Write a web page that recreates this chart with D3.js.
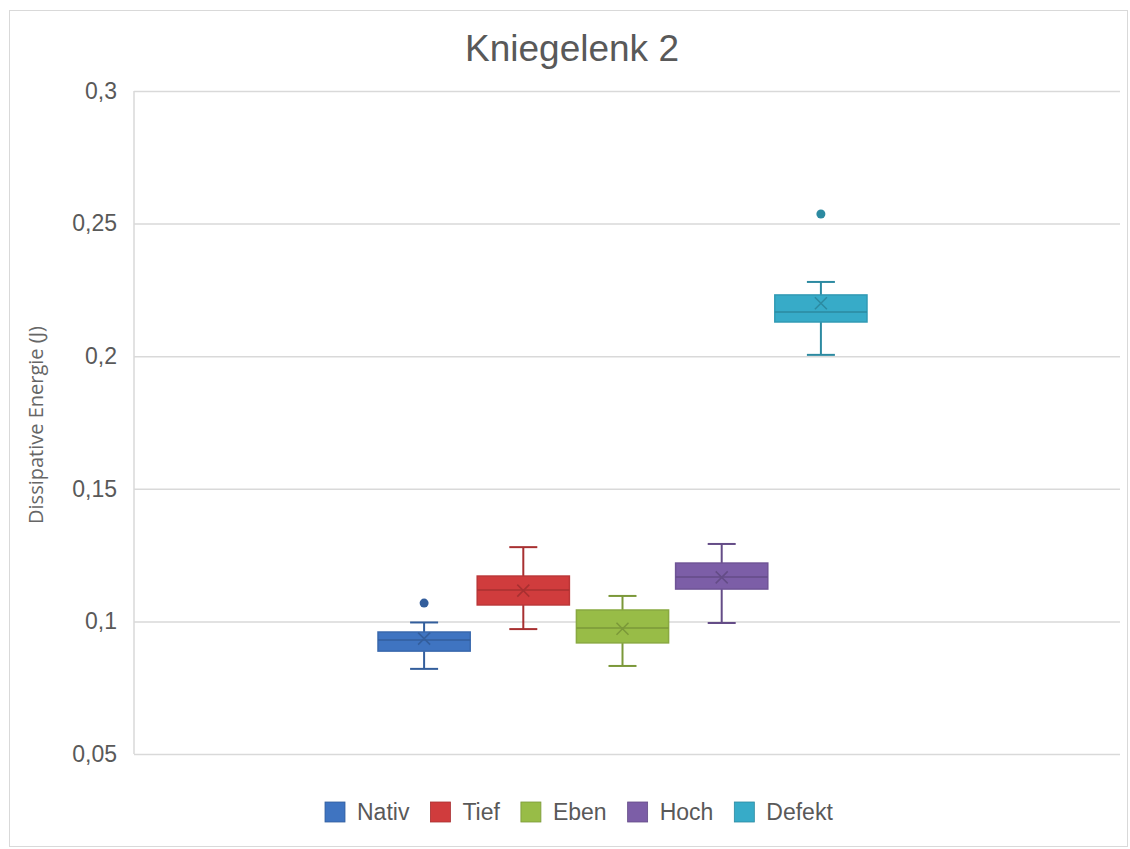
<!DOCTYPE html>
<html>
<head>
<meta charset="utf-8">
<script src="https://cdn.jsdelivr.net/npm/d3@7"></script>
<style>
  html, body { margin: 0; padding: 0; background: #fff; }
  svg { display: block; }
  text { font-family: "Liberation Sans", Arial, sans-serif; fill: #595959; }
</style>
</head>
<body>
<svg id="chart" width="1130" height="849"></svg>
<script>
const chartTitle = "Kniegelenk 2";
const yTitle = "Dissipative Energie (J)";
const category = ["Kniegelenk 2"];
const series = ["Nativ", "Tief", "Eben", "Hoch", "Defekt"];
const colors = ["#3f74c1", "#d03c3d", "#98bc47", "#7c5ea7", "#37abc8"];
const whiskerLow  = [0.0821, 0.0971, 0.0832, 0.0994, 0.2005];
const q1          = [0.0888, 0.1062, 0.0919, 0.1122, 0.2129];
const median      = [0.0930, 0.1118, 0.0975, 0.1167, 0.2167];
const q3          = [0.0960, 0.1171, 0.1043, 0.1220, 0.2231];
const whiskerHigh = [0.0996, 0.1280, 0.1096, 0.1292, 0.2280];
const meanVals    = [0.0935, 0.1116, 0.0972, 0.1166, 0.2200];
const outliers    = [[0.1069], [], [], [], [0.2536]];
const yTicks = [0.05, 0.1, 0.15, 0.2, 0.25, 0.3];
const yTickLabels = ["0,05", "0,1", "0,15", "0,2", "0,25", "0,3"];

const svg = d3.select("#chart");
const plotLeft = 134, plotRight = 1120, plotTop = 91, plotBottom = 754;

// outer border
svg.append("rect").attr("x", 9.5).attr("y", 10.5).attr("width", 1118).attr("height", 836)
  .attr("fill", "#fff").attr("stroke", "#d9d9d9").attr("stroke-width", 1);

const y = d3.scaleLinear().domain([0.05, 0.3]).range([plotBottom, plotTop]);
const x0 = d3.scaleBand().domain(category).range([plotLeft, 1111]).paddingOuter(0.499).paddingInner(0);
const x1 = d3.scaleBand().domain(series).range([0, x0.bandwidth()]).paddingInner(0.0707).paddingOuter(0);

// gridlines + y axis labels
const yAxis = d3.axisLeft(y).tickValues(yTicks)
  .tickFormat((d, i) => yTickLabels[i]).tickSize(-(plotRight - plotLeft)).tickPadding(17);
const gy = svg.append("g").attr("transform", `translate(${plotLeft},0)`).call(yAxis);
gy.select(".domain").remove();
gy.selectAll(".tick line").attr("stroke", "#d9d9d9").attr("stroke-width", 1.5);
gy.selectAll(".tick text").style("font-size", "23px").attr("fill", "#595959")
  .style("font-family", "'Liberation Sans', Arial, sans-serif");
// left axis vertical line
svg.append("line").attr("x1", plotLeft).attr("x2", plotLeft).attr("y1", plotTop).attr("y2", plotBottom)
  .attr("stroke", "#d9d9d9").attr("stroke-width", 1.5);

// title
svg.append("text").attr("x", 572).attr("y", 61).attr("text-anchor", "middle")
  .style("font-size", "37px").text(chartTitle);
// y title
svg.append("text").attr("transform", "translate(43,425) rotate(-90)").attr("text-anchor", "middle")
  .style("font-size", "20px").style("font-family", "'Open Sans', 'Liberation Sans', sans-serif")
  .style("fill", "#666").text(yTitle);

const darker = c => d3.color(c).darker(0.6).formatHex();

const g = svg.append("g");
series.forEach((s, i) => {
  const bx = x0(category[0]) + x1(s);
  const bw = x1.bandwidth();
  const cx = bx + bw / 2;
  const c = colors[i];
  const dc = darker(c);
  const capW = 28;
  // whiskers
  g.append("line").attr("x1", cx).attr("x2", cx).attr("y1", y(q3[i])).attr("y2", y(whiskerHigh[i]))
    .attr("stroke", dc).attr("stroke-width", 2);
  g.append("line").attr("x1", cx).attr("x2", cx).attr("y1", y(q1[i])).attr("y2", y(whiskerLow[i]))
    .attr("stroke", dc).attr("stroke-width", 2);
  g.append("line").attr("x1", cx - capW / 2).attr("x2", cx + capW / 2)
    .attr("y1", y(whiskerHigh[i])).attr("y2", y(whiskerHigh[i])).attr("stroke", dc).attr("stroke-width", 2);
  g.append("line").attr("x1", cx - capW / 2).attr("x2", cx + capW / 2)
    .attr("y1", y(whiskerLow[i])).attr("y2", y(whiskerLow[i])).attr("stroke", dc).attr("stroke-width", 2);
  // box
  g.append("rect").attr("x", bx).attr("y", y(q3[i])).attr("width", bw)
    .attr("height", y(q1[i]) - y(q3[i])).attr("fill", c).attr("stroke", d3.color(c).darker(0.3).formatHex())
    .attr("stroke-width", 1.5);
  // median
  g.append("line").attr("x1", bx).attr("x2", bx + bw).attr("y1", y(median[i])).attr("y2", y(median[i]))
    .attr("stroke", dc).attr("stroke-width", 1.5);
  // mean X
  const my = y(meanVals[i]), m = 6;
  g.append("path").attr("d", `M${cx - m},${my - m}L${cx + m},${my + m}M${cx - m},${my + m}L${cx + m},${my - m}`)
    .attr("stroke", dc).attr("stroke-width", 1.5).attr("fill", "none");
  // outliers
  outliers[i].forEach(v => {
    g.append("circle").attr("cx", cx).attr("cy", y(v)).attr("r", 4.5).attr("fill", dc);
  });
});

// legend: laid out from measured text widths
const lg = svg.append("g");
let lx = 325;
series.forEach((s, i) => {
  lg.append("rect").attr("x", lx).attr("y", 802).attr("width", 20).attr("height", 20)
    .attr("fill", colors[i]).attr("stroke", darker(colors[i])).attr("stroke-width", 0.8);
  const t = lg.append("text").attr("x", lx + 32).attr("y", 820).style("font-size", "23px").text(s);
  lx += 32 + t.node().getComputedTextLength() + 21;
});
</script>
</body>
</html>
